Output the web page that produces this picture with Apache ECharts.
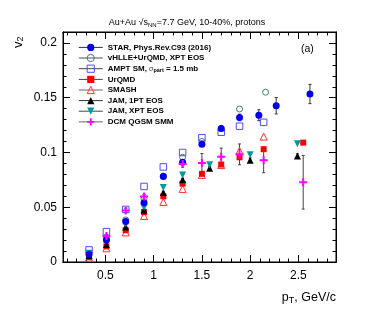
<!DOCTYPE html>
<html><head><meta charset="utf-8">
<script src="https://cdn.jsdelivr.net/npm/echarts@6/dist/echarts.min.js"></script>
<style>html,body{margin:0;padding:0;background:#fff}#c{width:374px;height:316px}</style>
</head><body><div id="c"></div>
<script>
// ---- tick labels ----
const xTickLabels = [0.5, 1, 1.5, 2, 2.5];
const yTickLabels = [0, 0.05, 0.1, 0.15, 0.2];

// ---- STAR, Phys.Rev.C93 (2016) ----
const starX   = [0.33, 0.51, 0.71, 0.90, 1.10, 1.30, 1.50, 1.70, 1.89, 2.09, 2.27, 2.62];
const starY   = [0.007, 0.020, 0.037, 0.054, 0.078, 0.091, 0.1075, 0.122, 0.132, 0.134, 0.1427, 0.1534];
const starErr = [0.001, 0.001, 0.001, 0.0015, 0.0015, 0.002, 0.002, 0.0025, 0.003, 0.005, 0.0075, 0.0088];
// ---- vHLLE+UrQMD, XPT EOS ----
const vhlleX = [0.51, 0.71, 0.90, 1.10, 1.30, 1.50, 1.89, 2.16];
const vhlleY = [0.021, 0.0384, 0.0578, 0.0785, 0.0956, 0.110, 0.1397, 0.155];
// ---- AMPT SM ----
const amptX = [0.33, 0.51, 0.71, 0.90, 1.10, 1.30, 1.50, 1.70, 1.89, 2.14];
const amptY = [0.011, 0.0277, 0.048, 0.069, 0.0868, 0.1000, 0.1135, 0.1185, 0.124, 0.1275];
// ---- UrQMD ----
const urqmdX = [0.33, 0.51, 0.71, 0.90, 1.10, 1.30, 1.50, 1.70, 1.89, 2.14, 2.55];
const urqmdY = [0.0045, 0.0143, 0.029, 0.0455, 0.060, 0.0715, 0.0805, 0.089, 0.0956, 0.103, 0.109];
// ---- SMASH ----
const smashX = [0.33, 0.51, 0.71, 0.90, 1.10, 1.30, 1.50, 1.70, 1.89, 2.14];
const smashY = [0.004, 0.0125, 0.027, 0.042, 0.0548, 0.0667, 0.0795, 0.0885, 0.1015, 0.1145];
// ---- JAM, 1PT EOS ----
const jam1X = [0.33, 0.51, 0.71, 0.90, 1.10, 1.30, 1.58, 2.00, 2.49];
const jam1Y = [0.006, 0.016, 0.032, 0.0475, 0.0635, 0.075, 0.0855, 0.093, 0.0968];
const jam1Err = [0.0005, 0.0005, 0.001, 0.001, 0.001, 0.0015, 0.0015, 0.002, 0.002];
// ---- JAM, XPT EOS ----
const jamxX = [0.33, 0.51, 0.71, 0.90, 1.10, 1.30, 1.58, 2.00, 2.49];
const jamxY = [0.008, 0.020, 0.035, 0.050, 0.068, 0.0795, 0.0888, 0.098, 0.108];
// ---- DCM QGSM SMM ----
const dcmX   = [0.51, 0.71, 0.90, 1.30, 1.50, 1.70, 1.89, 2.14, 2.55];
const dcmY   = [0.0237, 0.047, 0.0597, 0.0895, 0.0905, 0.096, 0.0983, 0.093, 0.0728];
const dcmErr = [0.0015, 0.002, 0.002, 0.003, 0.0085, 0.008, 0.0095, 0.0115, 0.0245];

const XMIN = 0.06, XMAX = 2.89, YMIN = 0, YMAX = 0.21;
const FONT = 'Liberation Sans, Arial, Helvetica, sans-serif';

const xMinor = []; for (let i = 1; i <= 28; i++) xMinor.push(+(i * 0.1).toFixed(2));
const yMinor = []; for (let i = 0; i <= 21; i++) yMinor.push(+(i * 0.01).toFixed(3));

function pairs(xs, ys) { return xs.map((x, i) => [x, ys[i]]); }
function triples(xs, ys, es) { return xs.map((x, i) => [x, ys[i], es[i]]); }

function xa(pos, vals, len, labels) {
  return {
    type: 'value', min: XMIN, max: XMAX, position: pos, gridIndex: 0,
    axisLine: { show: true, onZero: false, lineStyle: { color: '#000', width: 1 } },
    axisTick: { show: true, inside: true, length: len, customValues: vals, lineStyle: { color: '#000', width: 1 } },
    axisLabel: { show: labels, customValues: xTickLabels, fontSize: 12, color: '#000', margin: 8, fontFamily: FONT },
    splitLine: { show: false }
  };
}
function ya(pos, vals, len, labels) {
  return {
    type: 'value', min: YMIN, max: YMAX, position: pos, gridIndex: 0,
    axisLine: { show: true, onZero: false, lineStyle: { color: '#000', width: 1 } },
    axisTick: { show: true, inside: true, length: len, customValues: vals, lineStyle: { color: '#000', width: 1 } },
    axisLabel: { show: labels, customValues: yTickLabels, fontSize: 12, color: '#000', margin: 6, fontFamily: FONT },
    splitLine: { show: false }
  };
}

function errSeries(xs, ys, es, color) {
  return {
    type: 'custom', silent: true, z: 1, xAxisIndex: 0, yAxisIndex: 0,
    data: triples(xs, ys, es), encode: { x: 0, y: 1 },
    renderItem: function (params, api) {
      const x = api.value(0), y = api.value(1), e = api.value(2);
      const t = api.coord([x, y + e]), b = api.coord([x, y - e]);
      const c = 1.5;
      const st = { stroke: color, lineWidth: 1 };
      return { type: 'group', children: [
        { type: 'line', shape: { x1: t[0], y1: t[1], x2: b[0], y2: b[1] }, style: st },
        { type: 'line', shape: { x1: t[0] - c, y1: t[1], x2: t[0] + c, y2: t[1] }, style: st },
        { type: 'line', shape: { x1: b[0] - c, y1: b[1], x2: b[0] + c, y2: b[1] }, style: st }
      ]};
    }
  };
}

const OPEN = 'rgba(255,255,255,0)';
function mk(name, xs, ys, symbol, size, fill, border, z, rotate) {
  const s = {
    name: name, type: 'line', xAxisIndex: 0, yAxisIndex: 0, z: z,
    data: pairs(xs, ys), symbol: symbol, symbolSize: size, showSymbol: true,
    lineStyle: { width: 0 },
    itemStyle: border ? { color: OPEN, borderColor: border, borderWidth: 1 } : { color: fill },
    emphasis: { disabled: true }
  };
  if (rotate) s.symbolRotate = rotate;
  return s;
}

const PLUS = 'path://M3,0L5,0L5,3L8,3L8,5L5,5L5,8L3,8L3,5L0,5L0,3L3,3Z';
const N = {
  star: 'STAR, Phys.Rev.C93 (2016)',
  vhlle: 'vHLLE+UrQMD, XPT EOS',
  ampt: 'AMPT SM, σpart = 1.5 mb',
  urqmd: 'UrQMD',
  smash: 'SMASH',
  jam1: 'JAM, 1PT EOS',
  jamx: 'JAM, XPT EOS',
  dcm: 'DCM QGSM SMM'
};

const option = {
  animation: false,
  backgroundColor: '#fff',
  grid: { left: 63, right: 38, top: 32, bottom: 54, show: true, borderColor: '#000', borderWidth: 1, containLabel: false },
  xAxis: [ xa('bottom', xTickLabels, 7, true), xa('bottom', xMinor, 3.5, false), xa('top', xTickLabels, 7, false), xa('top', xMinor, 3.5, false) ],
  yAxis: [ ya('left', yTickLabels, 7, true), ya('left', yMinor, 3.5, false), ya('right', yTickLabels, 7, false), ya('right', yMinor, 3.5, false) ],
  legend: {
    orient: 'vertical', left: 73, top: 38, itemWidth: 24, itemHeight: 9, itemGap: 1.8,
    selectedMode: false,
    textStyle: { fontSize: 8, fontWeight: 'bold', fontFamily: FONT, color: '#000', lineHeight: 8.8,
      rich: {
        sig: { fontSize: 7, fontWeight: 'normal', fontFamily: FONT, color: '#333', lineHeight: 8.8 },
        sub: { fontSize: 5.5, fontWeight: 'bold', fontFamily: FONT, color: '#000', lineHeight: 6, padding: [3, 0, 0, 0] }
      } },
    formatter: function (name) {
      if (name === N.ampt) return 'AMPT SM, {sig|σ}{sub|part} = 1.5 mb';
      return name;
    },
    data: [
      { name: N.star,  itemStyle: { borderWidth: 0 }, lineStyle: { color: '#333', width: 1, opacity: 1 } },
      { name: N.vhlle, itemStyle: { borderWidth: 1 }, lineStyle: { color: '#888', width: 1.5, opacity: 1 } },
      { name: N.ampt,  itemStyle: { borderWidth: 1 }, lineStyle: { color: '#444', width: 1, opacity: 1 } },
      { name: N.urqmd, itemStyle: { borderWidth: 0 }, lineStyle: { color: '#444', width: 1, opacity: 1 } },
      { name: N.smash, itemStyle: { borderWidth: 1 }, lineStyle: { color: '#999', width: 1.5, opacity: 1 } },
      { name: N.jam1,  itemStyle: { borderWidth: 0 }, lineStyle: { color: '#333', width: 1, opacity: 1 } },
      { name: N.jamx,  itemStyle: { borderWidth: 0 }, lineStyle: { color: '#444', width: 1, opacity: 1 } },
      { name: N.dcm,   itemStyle: { borderWidth: 0 }, lineStyle: { color: '#999', width: 1.5, opacity: 1 } }
    ]
  },
  graphic: [
    { type: 'text', left: 'center', top: 18, z: 10,
      style: { text: '{n|Au+Au √}{n|s}{sub|NN}{n|=7.7 GeV, 10-40%, protons}', x: 0, y: 0,
        rich: { n: { fontSize: 9, fontFamily: FONT, fill: '#000', lineHeight: 11 },
                sub: { fontSize: 6, fontFamily: FONT, fill: '#000', lineHeight: 7, padding: [4, 0, 0, 0] } } } },
    { type: 'text', left: 301, top: 44, z: 10,
      style: { text: '(a)', fontSize: 10.5, fontFamily: FONT, fill: '#000' } },
    { type: 'text', x: 11, y: 48, rotation: Math.PI / 2, z: 10,
      style: { text: '{n|v}{sub|2}',
        rich: { n: { fontSize: 13, fontFamily: FONT, fill: '#000', lineHeight: 14 },
                sub: { fontSize: 9, fontFamily: FONT, fill: '#000', lineHeight: 9, padding: [5, 0, 0, 0] } } } },
    { type: 'text', right: 38, top: 290, z: 10,
      style: { text: '{n|p}{sub|T}{n|, GeV/c}',
        rich: { n: { fontSize: 12.5, fontFamily: FONT, fill: '#000', lineHeight: 14 },
                sub: { fontSize: 9, fontFamily: FONT, fill: '#000', lineHeight: 9, padding: [6, 0, 0, 0] } } } }
  ],
  series: [
    errSeries(starX, starY, starErr, '#333'),
    errSeries(dcmX, dcmY, dcmErr, '#444'),
    errSeries(jam1X, jam1Y, jam1Err, '#333'),
    mk(N.star,  starX,  starY,  'circle', 7, '#0000ee', null, 8),
    mk(N.vhlle, vhlleX, vhlleY, 'circle', 6, null, '#4b7575', 3),
    mk(N.ampt,  amptX,  amptY,  'rect', 6.5, null, '#4d4dff', 2),
    mk(N.urqmd, urqmdX, urqmdY, 'rect', 6, '#ff0000', null, 5),
    mk(N.smash, smashX, smashY, 'triangle', 7, null, '#ff3333', 4),
    mk(N.jam1,  jam1X,  jam1Y,  'triangle', 7, '#000000', null, 6),
    mk(N.jamx,  jamxX,  jamxY,  'triangle', 7, '#009a9a', null, 6, 180),
    mk(N.dcm,   dcmX,   dcmY,   PLUS, 8, '#ff00ff', null, 9)
  ]
};

const chart = echarts.init(document.getElementById('c'), null, { renderer: 'canvas' });
chart.setOption(option);
</script>
</body></html>
